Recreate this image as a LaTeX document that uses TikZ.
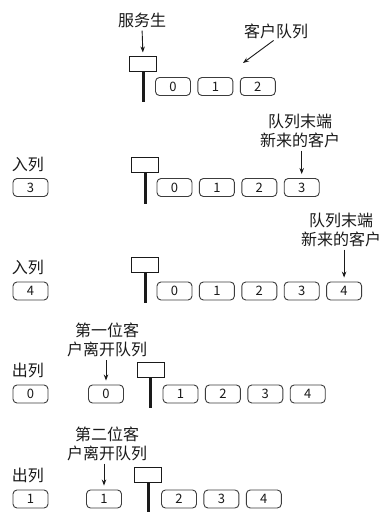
\documentclass[tikz,border=0pt]{standalone}
\usepackage{fontspec}
\setmainfont{Noto Sans CJK SC}
\usetikzlibrary{positioning,arrows.meta}
\definecolor{ink}{HTML}{1A1A1A}
\definecolor{boxline}{HTML}{3C3C3C}
\definecolor{paper}{HTML}{FFFFFF}

\begin{document}
\begin{tikzpicture}[
    x=1pt, y=-1pt,
    >={Stealth[length=6pt,width=4.5pt]},
    every node/.style={text=ink},
    node distance=6.5pt,
    cust/.style={
        rectangle, rounded corners=4pt, draw=boxline, line width=0.9pt,
        minimum width=35pt, minimum height=18pt, inner sep=0pt,
        font=\fontsize{13}{15}\selectfont,
    },
    server/.style={rectangle, draw=ink, line width=1pt,
                   minimum width=27pt, minimum height=15pt, inner sep=0pt},
    pole/.style={line width=3pt, draw=ink},
    lab/.style={font=\fontsize{16}{19}\selectfont, align=center, inner sep=0pt},
    arr/.style={->, line width=0.9pt, draw=ink, shorten >=4pt, shorten <=3pt},
]

\fill[paper] (0,0) rectangle (384,524);
\useasboundingbox (0,0) rectangle (384,524);

% --- Row 1: server and the waiting queue ---
\node[lab] (waiter) at (142,20) {服务生};
\node[server] (srvA) at (143,64.5) {};
\draw[pole] (srvA.south) -- ++(0,30);
\node[cust] (qA0) at (173,86.5) {0};
\node[cust, right=of qA0] (qA1) {1};
\node[cust, right=of qA1] (qA2) {2};
\node[lab] (queuelab) at (276,31) {客户队列};
\coordinate (qAtip) at (243,63);

\draw[arr] (waiter.south) -- (srvA.north);
\draw[arr, shorten >=0pt] (queuelab.south) -- (qAtip);

% --- Row 2: enqueue 3 ---
\node[lab] (enqB) at (28,164) {入列};
\node[cust] (newB) at (30.5,187.5) {3};
\node[server] (srvB) at (145,165) {};
\draw[pole] (srvB.south) -- ++(0,31);
\node[cust] (qB0) at (174.5,187.5) {0};
\node[cust, right=of qB0] (qB1) {1};
\node[cust, right=of qB1] (qB2) {2};
\node[cust, right=of qB2] (qB3) {3};
\node[lab] (tailB) at (300,130.5) {队列末端\\新来的客户};

\draw[arr] (tailB.south -| qB3.north) -- (qB3.north);

% --- Row 3: enqueue 4 ---
\node[lab] (enqC) at (28,267) {入列};
\node[cust] (newC) at (30.5,291) {4};
\node[server] (srvC) at (145,264.5) {};
\draw[pole] (srvC.south) -- ++(0,30);
\node[cust] (qC0) at (174.5,291) {0};
\node[cust, right=of qC0] (qC1) {1};
\node[cust, right=of qC1] (qC2) {2};
\node[cust, right=of qC2] (qC3) {3};
\node[cust, right=of qC3] (qC4) {4};
\node[lab] (tailC) at (341,229.5) {队列末端\\新来的客户};

\draw[arr] (tailC.south -| qC4.north) -- (qC4.north);

% --- Row 4: dequeue 0 ---
\node[lab] (deqD) at (28,370) {出列};
\node[cust] (outD) at (30.5,394) {0};
\node[cust] (leaveD) at (106,394) {0};
\node[lab] (firstD) at (107,340) {第一位客\\户离开队列};
\node[server] (srvD) at (150.5,369.5) {};
\draw[pole] (srvD.south) -- ++(0,30);
\node[cust] (qD1) at (180.5,394) {1};
\node[cust, right=of qD1] (qD2) {2};
\node[cust, right=of qD2] (qD3) {3};
\node[cust, right=of qD3] (qD4) {4};

\draw[arr] (firstD.south -| leaveD.north) -- (leaveD.north);

% --- Row 5: dequeue 1 ---
\node[lab] (deqE) at (28,475) {出列};
\node[cust] (outE) at (30.5,499) {1};
\node[cust] (leaveE) at (104,499) {1};
\node[lab] (secondE) at (107,443.5) {第二位客\\户离开队列};
\node[server] (srvE) at (148,475) {};
\draw[pole] (srvE.south) -- ++(0,29);
\node[cust] (qE2) at (179,499) {2};
\node[cust, right=of qE2] (qE3) {3};
\node[cust, right=of qE3] (qE4) {4};

\draw[arr] (secondE.south -| leaveE.north) -- (leaveE.north);

\end{tikzpicture}
\end{document}
